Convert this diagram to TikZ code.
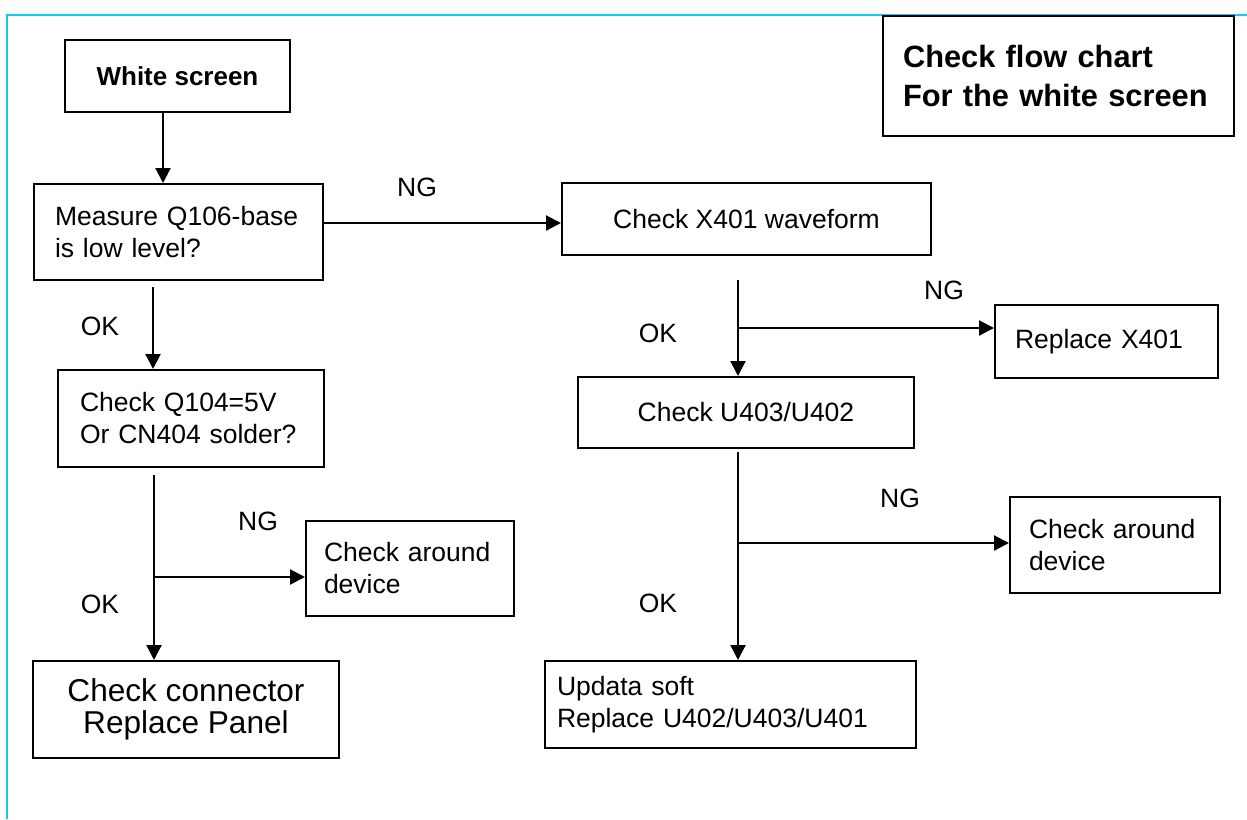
\documentclass[tikz,border=0pt]{standalone}
\usepackage{fontspec}
\setmainfont{Liberation Sans}
\usetikzlibrary{arrows.meta}
\definecolor{framecyan}{RGB}{20,200,240}

\begin{document}
\begin{tikzpicture}
			[x=0.5pt,y=-0.5pt,
			box/.style={draw,line width=1pt,anchor=north west,inner ysep=0pt,font=\fontsize{13.25}{16}\selectfont},
			lbox/.style={box,align=left},
			cbox/.style={box,align=center},
			arr/.style={-{Triangle[length=7.5pt,width=7.5pt]},line width=1.1pt},
			lbl/.style={font=\fontsize{13.25}{16}\selectfont}]
			
			\useasboundingbox (0,0) rectangle (1247,819);
			\draw[framecyan,line width=1pt] (7,819) -- (7,15) -- (1247,15);
			
			% boxes
			\node[cbox,minimum width=112.5pt,minimum height=36pt,font=\fontsize{13}{16}\bfseries] (white) at (64,39) {White screen};
			\node[lbox,minimum height=60pt,inner xsep=10pt,text width=155.5pt,font=\fontsize{15.4}{19.5}\bfseries] (title) at (882,15) {Check flow chart\\For the white screen};
			\node[lbox,minimum height=48pt,inner xsep=10.5pt,text width=123.5pt] (measure) at (33,183) {Measure Q106-base\\is low level?};
			\node[cbox,minimum width=184.5pt,minimum height=36pt] (x401) at (561,182) {Check X401 waveform};
			\node[lbox,minimum height=48.5pt,inner xsep=11pt,text width=111pt] (q104) at (57,369) {Check Q104=5V\\Or CN404 solder?};
			\node[lbox,minimum height=36.5pt,inner xsep=10pt,text width=91.5pt] (replx) at (994,304) {Replace X401};
			\node[cbox,minimum width=168pt,minimum height=35.5pt] (u403) at (577,376) {Check U403/U402};
			\node[lbox,minimum height=47.5pt,inner xsep=9pt,text width=86pt] (aroundl) at (305,520) {Check around\\device};
			\node[lbox,minimum height=48pt,inner xsep=9.5pt,text width=86pt] (aroundr) at (1009,496) {Check around\\device};
			\node[cbox,minimum width=153pt,minimum height=48.5pt,font=\fontsize{15.8}{16}\selectfont] (conn) at (32,660) {Check connector\\Replace Panel};
			\node[lbox,minimum height=43.5pt,inner xsep=6pt,text width=173.5pt] (updata) at (544,660) {Updata soft\\Replace U402/U403/U401};
			
			% branch points
			\coordinate (jl) at (154,577);
			\coordinate (jr1) at (738,328);
			\coordinate (jr2) at (738,543);
			
			% left column
			\draw[arr] ([xshift=-7.25pt]white.south) -- ([xshift=-7.25pt]white.south |- measure.north);
			\draw[arr] ([yshift=-3pt]measure.south -| 153,0) -- (153,0 |- q104.north);
			\node[lbl] at (100,326) {OK};
			\draw[arr] ([yshift=-3.5pt]q104.south -| jl) -- (jl |- conn.north);
			\draw[arr] (jl) -- (jl -| aroundl.west);
			\node[lbl] at (258,521) {NG};
			\node[lbl] at (100,604) {OK};
			
			% across
			\draw[arr] (measure.east |- 0,223) -- (x401.west |- 0,223);
			\node[lbl] at (417,187) {NG};
			
			% right column
			\draw[arr] ([yshift=-12pt]x401.south -| jr1) -- (jr1 |- u403.north);
			\draw[arr] (jr1) -- (jr1 -| replx.west);
			\node[lbl] at (944,290) {NG};
			\node[lbl] at (658,333) {OK};
			\draw[arr] ([yshift=-1.5pt]u403.south -| jr2) -- (jr2 |- updata.north);
			\draw[arr] (jr2) -- (jr2 -| aroundr.west);
			\node[lbl] at (900,498) {NG};
			\node[lbl] at (658,603) {OK};
			
		\end{tikzpicture}
\end{document}
